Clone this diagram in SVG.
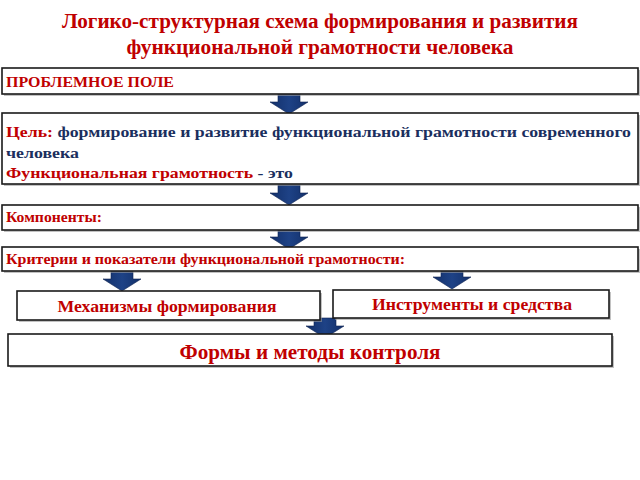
<svg xmlns="http://www.w3.org/2000/svg" width="640" height="480" viewBox="0 0 640 480">
<style>
.box{fill:#fff;stroke:#1a1a1a;stroke-width:1.6}
.sh{fill:#9a9a9a;opacity:0.6}
.t{font-family:"Liberation Serif","Times New Roman",serif;font-weight:bold}
.red{fill:#C00000}
.navy{fill:#1B2F5E}
.arr{fill:url(#ag);stroke:#0F2450;stroke-width:0.6}
</style>
<defs>
<linearGradient id="ag" x1="0" y1="0" x2="1" y2="0">
<stop offset="0" stop-color="#13306A"/>
<stop offset="0.5" stop-color="#1E4286"/>
<stop offset="1" stop-color="#13306A"/>
</linearGradient>
<path id="down" d="M-11,0 H11 V8 H19 L0,20 L-19,8 H-11 Z"/>
</defs>
<rect width="640" height="480" fill="#fff"/>
<g id="title">
<text class="t red" x="320" y="28" text-anchor="middle" font-size="21" textLength="516" lengthAdjust="spacingAndGlyphs">Логико-структурная схема формирования и развития</text>
<text class="t red" x="320" y="54" text-anchor="middle" font-size="21" textLength="387" lengthAdjust="spacingAndGlyphs">функциональной грамотности человека</text>
</g>
<g id="connectors">
<use href="#down" class="arr" x="289" y="94"/>
<use href="#down" class="arr" x="289" y="185"/>
<use href="#down" class="arr" x="289" y="229"/>
<use href="#down" class="arr" x="122" y="271"/>
<use href="#down" class="arr" x="452" y="269"/>
<use href="#down" class="arr" x="325" y="318"/>
</g>
<g id="problem">
<rect class="sh" x="4" y="70" width="636" height="26"/>
<rect class="box" x="2" y="68" width="636" height="26"/>
<text class="t red" x="6" y="87" font-size="14" textLength="168" lengthAdjust="spacingAndGlyphs">ПРОБЛЕМНОЕ ПОЛЕ</text>
</g>
<g id="goal">
<rect class="sh" x="4" y="115" width="636" height="71"/>
<rect class="box" x="2" y="113" width="636" height="71"/>
<text class="t" x="6" y="137" font-size="15" textLength="625" lengthAdjust="spacingAndGlyphs"><tspan class="red">Цель: </tspan><tspan class="navy">формирование и развитие функциональной грамотности современного</tspan></text>
<text class="t navy" x="6" y="158" font-size="15" textLength="73" lengthAdjust="spacingAndGlyphs">человека</text>
<text class="t" x="6" y="178" font-size="15" textLength="287" lengthAdjust="spacingAndGlyphs"><tspan class="red">Функциональная грамотность </tspan><tspan class="navy">- это</tspan></text>
</g>
<g id="components">
<rect class="sh" x="4" y="207" width="636" height="25"/>
<rect class="box" x="2" y="205" width="636" height="25"/>
<text class="t red" x="6" y="222" font-size="14" textLength="96" lengthAdjust="spacingAndGlyphs">Компоненты:</text>
</g>
<g id="criteria">
<rect class="sh" x="4" y="249" width="636" height="24"/>
<rect class="box" x="2" y="247" width="636" height="24"/>
<text class="t red" x="6" y="264" font-size="14" textLength="399" lengthAdjust="spacingAndGlyphs">Критерии и показатели функциональной грамотности:</text>
</g>
<g id="mechanisms">
<rect class="sh" x="19" y="293" width="303" height="29"/>
<rect class="box" x="17" y="291" width="303" height="29"/>
<text class="t red" x="167" y="312" text-anchor="middle" font-size="17" textLength="219" lengthAdjust="spacingAndGlyphs">Механизмы формирования</text>
</g>
<g id="tools">
<rect class="sh" x="335" y="292" width="276" height="28"/>
<rect class="box" x="333" y="290" width="276" height="28"/>
<text class="t red" x="472" y="310" text-anchor="middle" font-size="17" textLength="200" lengthAdjust="spacingAndGlyphs">Инструменты и средства</text>
</g>
<g id="forms">
<rect class="sh" x="10" y="336" width="604" height="32"/>
<rect class="box" x="8" y="334" width="604" height="32"/>
<text class="t red" x="310" y="359" text-anchor="middle" font-size="20" textLength="261" lengthAdjust="spacingAndGlyphs">Формы и методы контроля</text>
</g>
</svg>
